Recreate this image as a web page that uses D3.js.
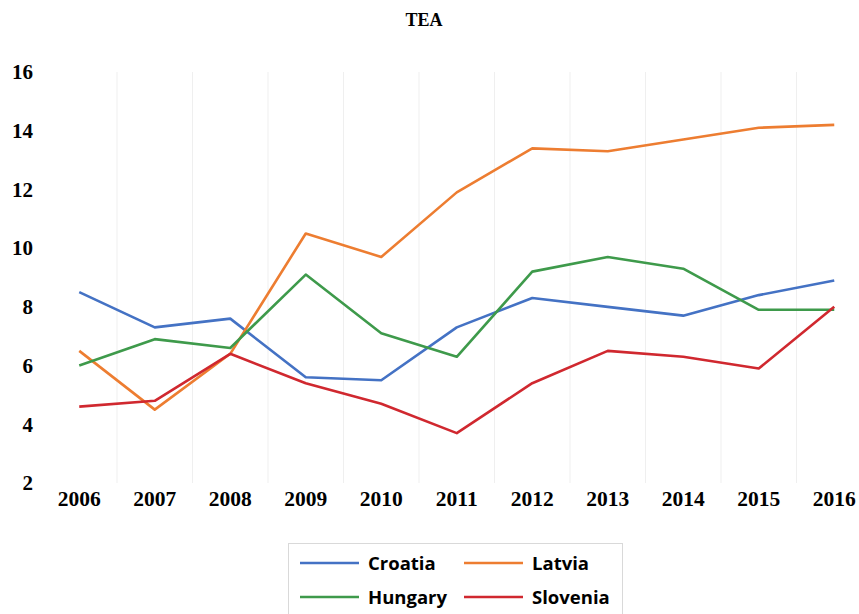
<!DOCTYPE html>
<html><head><meta charset="utf-8">
<script src="https://cdn.jsdelivr.net/npm/d3@7"></script>
<style>body{margin:0;background:#fff;}svg{display:block;}</style>
</head><body>
<script>
const years = ["2006","2007","2008","2009","2010","2011","2012","2013","2014","2015","2016"];
const croatia  = [8.5, 7.3, 7.6, 5.6, 5.5, 7.3, 8.3, 8.0, 7.7, 8.4, 8.9];
const latvia   = [6.5, 4.5, 6.4, 10.5, 9.7, 11.9, 13.4, 13.3, 13.7, 14.1, 14.2];
const hungary  = [6.0, 6.9, 6.6, 9.1, 7.1, 6.3, 9.2, 9.7, 9.3, 7.9, 7.9];
const slovenia = [4.6, 4.8, 6.4, 5.4, 4.7, 3.7, 5.4, 6.5, 6.3, 5.9, 8.0];
const yTicks = [2, 4, 6, 8, 10, 12, 14, 16];
const seriesNames = ["Croatia", "Latvia", "Hungary", "Slovenia"];
const seriesColors = ["#4472C4", "#ED7D31", "#3E9A4B", "#D0282F"];

const series = [croatia, latvia, hungary, slovenia].map((v, i) => ({name: seriesNames[i], color: seriesColors[i], values: v}));

const W = 859, H = 614;
const svg = d3.select("body").append("svg").attr("width", W).attr("height", H);

const x = d3.scaleBand().domain(years).range([41.5, 872]);
const y = d3.scaleLinear().domain([2, 16]).range([483, 72]);
const cx = d => x(d) + x.bandwidth() / 2;

// vertical gridlines between categories
svg.append("g").selectAll("line").data(years.slice(1)).join("line")
  .attr("x1", d => x(d)).attr("x2", d => x(d))
  .attr("y1", y(16)).attr("y2", y(2))
  .attr("stroke", "#efefef").attr("stroke-width", 1);

// title
svg.append("text").attr("x", 424).attr("y", 26).attr("text-anchor", "middle")
  .attr("font-family", "Liberation Serif, Times New Roman, serif").attr("font-weight", "bold")
  .attr("font-size", 18).text("TEA");

// y axis
const yAxis = svg.append("g").attr("transform", "translate(33,0)")
  .call(d3.axisLeft(y).tickValues(yTicks).tickSize(0).tickPadding(0));
yAxis.select(".domain").remove();
yAxis.selectAll("text").attr("font-family", "Liberation Serif, Times New Roman, serif")
  .attr("font-weight", "bold").attr("font-size", 21).attr("fill", "#000");

// x axis
const xAxis = svg.append("g").attr("transform", "translate(0,491)")
  .call(d3.axisBottom(x).tickSize(0).tickPadding(0));
xAxis.select(".domain").remove();
xAxis.selectAll("text").attr("font-family", "Liberation Serif, Times New Roman, serif")
  .attr("font-weight", "bold").attr("font-size", 21.5).attr("fill", "#000").attr("dy", "0.71em");

// lines
const line = d3.line().x((d, i) => cx(years[i])).y(d => y(d));
svg.append("g").selectAll("path").data(series).join("path")
  .attr("d", d => line(d.values)).attr("fill", "none")
  .attr("stroke", d => d.color).attr("stroke-width", 2.6).attr("stroke-linejoin", "round");

// legend
const lg = svg.append("g");
lg.append("rect").attr("x", 288.5).attr("y", 543.5).attr("width", 334).attr("height", 80)
  .attr("fill", "#fff").attr("stroke", "#d9d9d9");
const pos = [[300, 563], [464, 563], [300, 597], [464, 597]];
series.forEach((s, i) => {
  const [px, py] = pos[i];
  lg.append("line").attr("x1", px).attr("x2", px + 59).attr("y1", py).attr("y2", py)
    .attr("stroke", s.color).attr("stroke-width", 2.6);
  lg.append("text").attr("x", px + 68).attr("y", py + 6.5)
    .attr("font-family", "Open Sans, Liberation Sans, sans-serif").attr("font-weight", "bold")
    .attr("font-size", 18.5).attr("fill", "#000").text(s.name);
});
</script>
</body></html>
